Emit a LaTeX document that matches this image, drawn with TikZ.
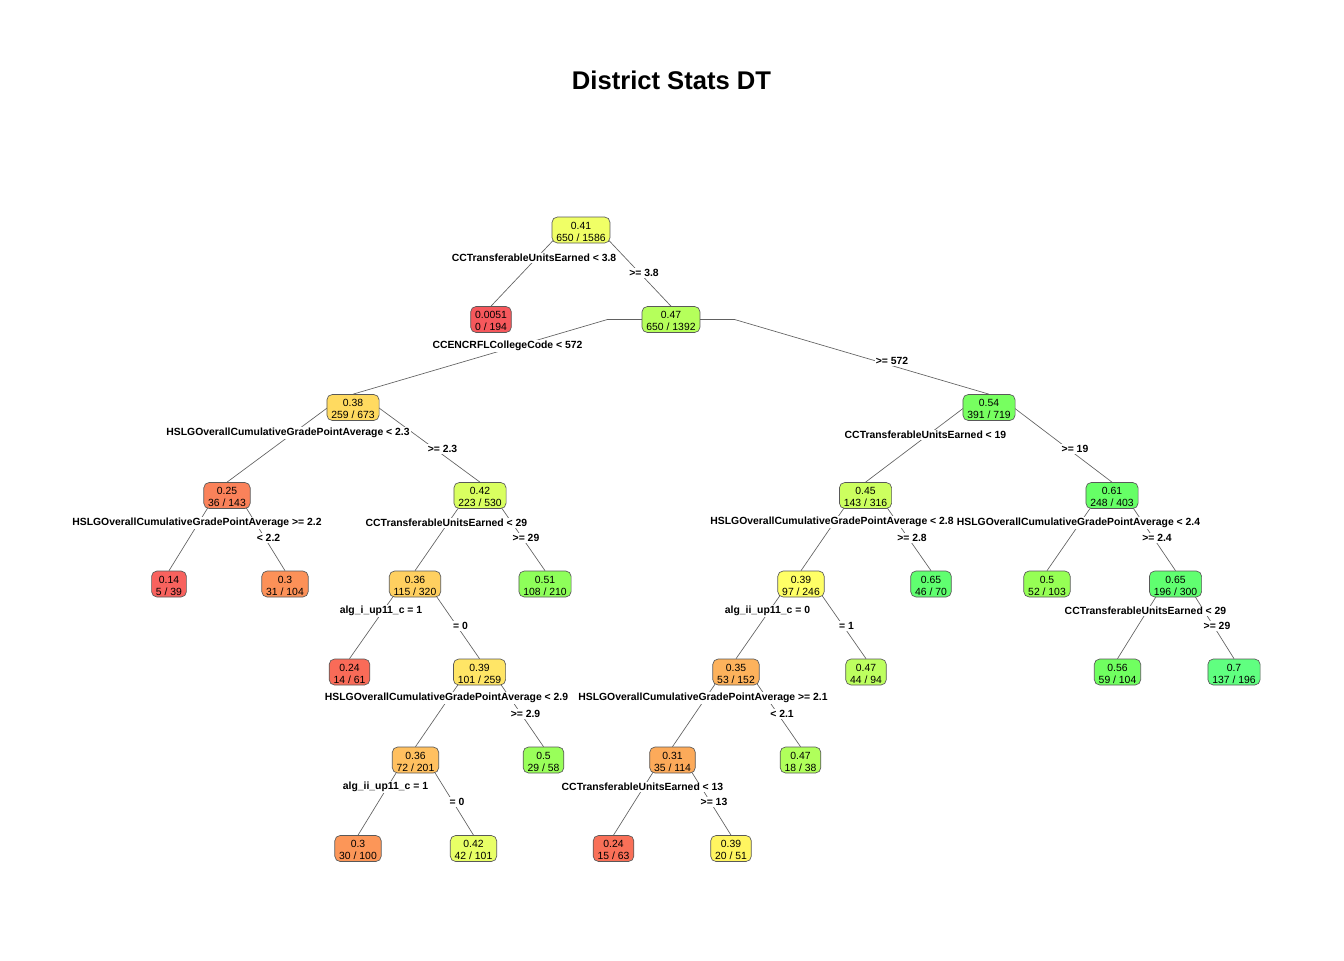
\documentclass[tikz,border=0pt]{standalone}
\usepackage{fontspec}
\setmainfont{Liberation Sans}
\usetikzlibrary{calc}
\pgfdeclarelayer{bg}
\pgfsetlayers{bg,main}
\definecolor{c0051}{RGB}{246,88,92}
\definecolor{c14}{RGB}{248,98,94}
\definecolor{c24a}{RGB}{249,107,88}
\definecolor{c24b}{RGB}{249,112,88}
\definecolor{c25}{RGB}{250,130,90}
\definecolor{c30a}{RGB}{252,145,88}
\definecolor{c30b}{RGB}{252,150,88}
\definecolor{c31}{RGB}{252,170,90}
\definecolor{c35}{RGB}{253,178,92}
\definecolor{c36a}{RGB}{255,208,96}
\definecolor{c36b}{RGB}{255,192,96}
\definecolor{c38}{RGB}{255,218,96}
\definecolor{c39a}{RGB}{255,229,102}
\definecolor{c39b}{RGB}{255,255,102}
\definecolor{c39c}{RGB}{255,245,96}
\definecolor{c41}{RGB}{240,255,102}
\definecolor{c42a}{RGB}{217,255,96}
\definecolor{c42b}{RGB}{232,255,102}
\definecolor{c45}{RGB}{204,255,95}
\definecolor{c47a}{RGB}{181,255,91}
\definecolor{c47b}{RGB}{189,255,95}
\definecolor{c47c}{RGB}{176,255,91}
\definecolor{c50a}{RGB}{153,255,90}
\definecolor{c50b}{RGB}{150,255,85}
\definecolor{c51}{RGB}{142,255,90}
\definecolor{c54}{RGB}{119,255,96}
\definecolor{c56}{RGB}{112,255,96}
\definecolor{c61}{RGB}{102,255,102}
\definecolor{c65}{RGB}{96,255,112}
\definecolor{c70}{RGB}{96,255,128}
\newcommand\branchline[2]{\draw[brline] (#1.center) -- ($(#1.center)!0.2!(#1.center -| #2.center)$) -- (#2.north);}
\newcommand\bx[2]{\rule{0pt}{8.3pt}#1\\#2}
\begin{document}
\begin{tikzpicture}[x=0.75pt,y=-0.75pt,
  tbox/.style={draw=black!65, line width=0.5pt, rounded corners=4pt, align=center,
    inner xsep=3.3pt, inner ysep=0pt, minimum height=19.5pt,
    font=\fontsize{7.8}{9}\selectfont},
  slab/.style={fill=white, inner sep=0.8pt, font=\fontsize{7.8}{9}\selectfont\bfseries},
  brline/.style={draw=black!62, line width=0.5pt}]
\useasboundingbox (0,0) rectangle (1344,960);
\node (title) at (671.5,80) {\fontsize{19.2}{23}\selectfont\bfseries District Stats DT};

% split labels
\node[slab] (l2) at (534,258) {CCTransferableUnitsEarned < 3.8};
\node[slab] (l3) at (644,273) {>= 3.8};
\node[slab] (l6) at (507.5,346) {CCENCRFLCollegeCode < 572};
\node[slab] (l7) at (892,361) {>= 572};
\node[slab] (l12) at (288,433) {HSLGOverallCumulativeGradePointAverage < 2.3};
\node[slab] (l13) at (442.5,449) {>= 2.3};
\node[slab] (l24) at (197,523) {HSLGOverallCumulativeGradePointAverage >= 2.2};
\node[slab] (l25) at (268.5,538) {< 2.2};
\node[slab] (l26) at (446.5,523) {CCTransferableUnitsEarned < 29};
\node[slab] (l27) at (526,538) {>= 29};
\node[slab] (l52) at (381,611) {alg\_i\_up11\_c = 1};
\node[slab] (l53) at (460.5,626) {= 0};
\node[slab] (l106) at (446.5,698) {HSLGOverallCumulativeGradePointAverage < 2.9};
\node[slab] (l107) at (525.5,714) {>= 2.9};
\node[slab] (l212) at (385.5,787) {alg\_ii\_up11\_c = 1};
\node[slab] (l213) at (457,802) {= 0};
\node[slab] (l14) at (925.5,435) {CCTransferableUnitsEarned < 19};
\node[slab] (l15) at (1075,449) {>= 19};
\node[slab] (l28) at (832,522) {HSLGOverallCumulativeGradePointAverage < 2.8};
\node[slab] (l29) at (912,538) {>= 2.8};
\node[slab] (l56) at (767.5,611) {alg\_ii\_up11\_c = 0};
\node[slab] (l57) at (846.5,626) {= 1};
\node[slab] (l112) at (703,698) {HSLGOverallCumulativeGradePointAverage >= 2.1};
\node[slab] (l113) at (782,714) {< 2.1};
\node[slab] (l224) at (642.5,787) {CCTransferableUnitsEarned < 13};
\node[slab] (l225) at (714,802) {>= 13};
\node[slab] (l30) at (1078.5,523) {HSLGOverallCumulativeGradePointAverage < 2.4};
\node[slab] (l31) at (1157,538) {>= 2.4};
\node[slab] (l62) at (1145.5,611) {CCTransferableUnitsEarned < 29};
\node[slab] (l63) at (1217,626) {>= 29};

% tree nodes
\node[tbox, fill=c41] (n1) at (581,230) {\bx{0.41}{650 / 1586}};
\node[tbox, fill=c0051] (n2) at (491,319.5) {\bx{0.0051}{0 / 194}};
\node[tbox, fill=c47a] (n3) at (671,319.5) {\bx{0.47}{650 / 1392}};
\node[tbox, fill=c38] (n6) at (353,407.5) {\bx{0.38}{259 / 673}};
\node[tbox, fill=c54] (n7) at (989,407.5) {\bx{0.54}{391 / 719}};
\node[tbox, fill=c25] (n12) at (227,495.5) {\bx{0.25}{36 / 143}};
\node[tbox, fill=c42a] (n13) at (480,495.5) {\bx{0.42}{223 / 530}};
\node[tbox, fill=c14] (n24) at (169,584) {\bx{0.14}{5 / 39}};
\node[tbox, fill=c30a] (n25) at (285,584) {\bx{0.3}{31 / 104}};
\node[tbox, fill=c36a] (n26) at (415,584) {\bx{0.36}{115 / 320}};
\node[tbox, fill=c51] (n27) at (545,584) {\bx{0.51}{108 / 210}};
\node[tbox, fill=c24a] (n52) at (349.5,672) {\bx{0.24}{14 / 61}};
\node[tbox, fill=c39a] (n53) at (479.5,672) {\bx{0.39}{101 / 259}};
\node[tbox, fill=c36b] (n106) at (415.5,760) {\bx{0.36}{72 / 201}};
\node[tbox, fill=c50a] (n107) at (543.5,760) {\bx{0.5}{29 / 58}};
\node[tbox, fill=c30b] (n212) at (358,848.5) {\bx{0.3}{30 / 100}};
\node[tbox, fill=c42b] (n213) at (473.5,848.5) {\bx{0.42}{42 / 101}};
\node[tbox, fill=c45] (n14) at (865.5,495.5) {\bx{0.45}{143 / 316}};
\node[tbox, fill=c61] (n15) at (1112,495.5) {\bx{0.61}{248 / 403}};
\node[tbox, fill=c39b] (n28) at (801,584) {\bx{0.39}{97 / 246}};
\node[tbox, fill=c65] (n29) at (931,584) {\bx{0.65}{46 / 70}};
\node[tbox, fill=c35] (n56) at (736,672) {\bx{0.35}{53 / 152}};
\node[tbox, fill=c47b] (n57) at (866,672) {\bx{0.47}{44 / 94}};
\node[tbox, fill=c31] (n112) at (672.5,760) {\bx{0.31}{35 / 114}};
\node[tbox, fill=c47c] (n113) at (800.5,760) {\bx{0.47}{18 / 38}};
\node[tbox, fill=c24b] (n224) at (613.5,848.5) {\bx{0.24}{15 / 63}};
\node[tbox, fill=c39c] (n225) at (731,848.5) {\bx{0.39}{20 / 51}};
\node[tbox, fill=c50b] (n30) at (1047,584) {\bx{0.5}{52 / 103}};
\node[tbox, fill=c65] (n31) at (1175.5,584) {\bx{0.65}{196 / 300}};
\node[tbox, fill=c56] (n62) at (1117.5,672) {\bx{0.56}{59 / 104}};
\node[tbox, fill=c70] (n63) at (1234,672) {\bx{0.7}{137 / 196}};

\begin{pgfonlayer}{bg}
\branchline{n1}{n2}
\branchline{n1}{n3}
\branchline{n3}{n6}
\branchline{n3}{n7}
\branchline{n6}{n12}
\branchline{n6}{n13}
\branchline{n12}{n24}
\branchline{n12}{n25}
\branchline{n13}{n26}
\branchline{n13}{n27}
\branchline{n26}{n52}
\branchline{n26}{n53}
\branchline{n53}{n106}
\branchline{n53}{n107}
\branchline{n106}{n212}
\branchline{n106}{n213}
\branchline{n7}{n14}
\branchline{n7}{n15}
\branchline{n14}{n28}
\branchline{n14}{n29}
\branchline{n28}{n56}
\branchline{n28}{n57}
\branchline{n56}{n112}
\branchline{n56}{n113}
\branchline{n112}{n224}
\branchline{n112}{n225}
\branchline{n15}{n30}
\branchline{n15}{n31}
\branchline{n31}{n62}
\branchline{n31}{n63}
\end{pgfonlayer}
\end{tikzpicture}
\end{document}
